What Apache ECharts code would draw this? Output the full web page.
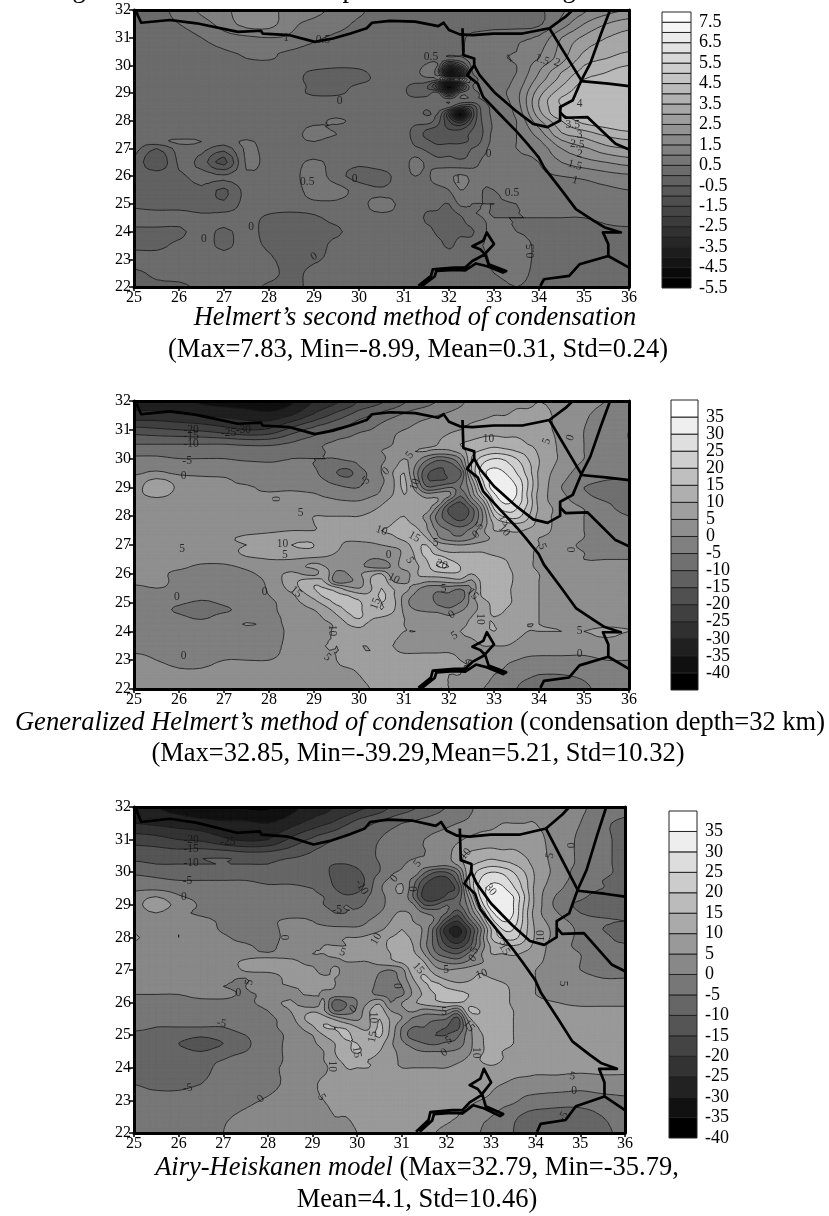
<!DOCTYPE html>
<html><head><meta charset="utf-8">
<style>html,body{margin:0;padding:0;background:#fff}#c{width:829px;height:1216px}</style>
<script src="https://cdn.jsdelivr.net/npm/echarts@6/dist/echarts.min.js"></script>
</head><body><div id="c"></div>
<script>
const levels1=[-5.5,-5,-4.5,-4,-3.5,-3,-2.5,-2,-1.5,-1,-0.5,0,0.5,1,1.5,2,2.5,3,3.5,4,4.5,5,5.5,6,6.5,7,7.5,8];
const levels2=[-45,-40,-35,-30,-25,-20,-15,-10,-5,0,5,10,15,20,25,30,35,40];
const levels3=[-40,-35,-30,-25,-20,-15,-10,-5,0,5,10,15,20,25,30,35,40];

const lons1=[25,25.5,26,26.5,27,27.5,28,28.5,29,29.5,30,30.5,31,31.25,31.5,31.75,32,32.25,32.5,32.75,33,33.5,34,34.5,35,35.5,36];
const lats1=[32,31.5,31,30.5,30.25,30,29.75,29.5,29.25,29,28.75,28.5,28.25,28,27.75,27.5,27.25,27,26.5,26,25.5,25,24.5,24,23.5,23,22.5,22];
const values1=[
[.2,.3,.7,1.1,1.4,1.7,1.7,1.2,1.1,.9,.6,.3,.3,.3,.3,.3,.3,.3,.3,.3,.3,.3,.4,.9,1.4,1.8,2],
[.2,.3,.5,.8,1.2,1.7,1.7,1.1,.9,.7,.4,.3,.3,.3,.3,.3,.3,.3,.3,.3,.3,.3,.4,1.2,2,2.5,2.8],
[.2,.2,.3,.5,.8,.9,1,.9,.6,.4,.3,.3,.3,.3,.3,.3,.3,.4,.6,.7,.8,.9,1.1,2,2.6,3,3.2],
[.2,.2,.2,.3,.45,.6,.6,.45,.3,.3,.3,.3,.3,.3,.3,.3,.3,.4,.7,.9,.9,1,1.4,2.2,3,3.3,3.5],
[.2,.2,.2,.2,.3,.5,.55,.3,.2,.2,.2,.3,.3,.3,.3,.35,.4,.4,.7,.9,.9,1.1,1.5,2.3,3.2,3.5,3.7],
[.2,.2,.2,.2,.2,.3,.3,.2,.2,.1,.1,.2,.3,.3,.55,.5,-2,-1,.6,.8,.7,1,1.8,2.6,3.5,3.8,4],
[.2,.2,.2,.2,.2,.2,.2,.2,-.1,-.2,-.1,.2,.3,.4,.6,.1,-4,-3,.4,1,.7,1,2,3,3.7,4,4.2],
[.2,.2,.2,.2,.2,.2,.2,.2,-.2,-.3,-.2,.2,.3,.3,.4,.6,3,2.5,.3,.8,.7,1.1,2.2,3.2,4,4.2,4.2],
[.2,.2,.2,.2,.2,.2,.2,.2,-.1,-.2,.1,.3,.1,-.2,-.4,-2,-5,-2,.4,.7,.8,1.2,2.5,3.5,4.2,4.4,4.4],
[.2,.2,.2,.2,.2,.2,.2,.2,-.1,-.1,.2,.3,.1,-.3,-.3,.2,-2,.2,.3,.6,.8,1.3,2.8,3.8,4.3,4.4,4.4],
[.2,.2,.2,.2,.2,.2,.2,.2,.2,.2,.2,.3,.2,.2,.3,.3,.3,.4,.4,.5,.7,1.3,3,4.1,4.4,4.4,4.4],
[.1,.2,.3,.1,.1,.2,.2,.2,.2,.2,.2,.3,.3,.3,.1,.3,.2,-1,-1,.3,.6,1.2,3,4,4.4,4.4,4.4],
[.2,.2,.2,.1,.2,.2,.3,.2,.3,.3,.2,.3,.3,.3,-.1,0,-2,-5,-1.5,.2,.6,1.1,2.8,4,4.4,4.4,4.4],
[.2,.2,.2,.2,.2,.3,.3,.2,.3,.6,.3,.3,.3,.2,.3,-.3,-1.5,-2.5,-1,.1,.6,1,2.4,3.5,4.2,4.4,4.4],
[.2,.3,.2,.1,.1,.2,.2,.2,.6,.4,.3,.3,.2,-.1,-.4,-.6,-1.1,-1.2,-.6,0,.6,1,2,3.2,3.7,4,4.2],
[.2,.5,.2,.3,.2,.2,.3,.3,.7,.5,.3,.3,.2,-.2,-.6,-.6,-.7,-.7,-.4,0,.7,1,1.7,2.9,3.2,3.6,3.8],
[.2,.3,.6,.5,.2,.6,.2,.3,.5,.2,.2,.2,.2,-.1,-.4,-.6,-.6,-.6,-.4,.1,.7,1,1.4,2.4,2.8,3.2,3.4],
[.2,-.5,.2,.2,-.3,.6,.3,.3,.2,.2,.2,.3,.2,.1,-.1,-.3,-.2,-.2,0,.3,.8,1,1.2,2,2.4,2.8,3],
[-.1,-1,.1,-.2,-1.2,.6,.3,.3,.6,.3,.1,.3,.3,.7,.4,.2,.2,.1,.2,.6,.7,.9,1,1.5,1.8,2,2.2],
[-.1,-.2,-.1,.2,.1,.4,.3,.3,.8,.2,-.2,-.2,.3,.5,.4,.8,.9,1.1,.9,.6,.7,.7,.9,1,1.1,1.3,1.4],
[-.2,-.3,-.4,-.1,-.6,.2,.3,.3,.7,.7,.3,.1,.3,.2,.3,.3,.5,1,.8,.5,.5,.6,.6,.7,.8,.9,1],
[-.1,-.2,-.2,-.2,-.4,.2,.3,.3,.4,.4,.3,.8,.3,.3,.2,.1,0,.6,.5,.5,.5,.5,.6,.6,.7,.8,.8],
[.2,.2,.2,.1,.2,.2,-.1,-.2,-.1,.2,.3,.3,.3,.3,-.1,-.1,-.2,-.1,.4,.5,.5,.5,.5,.5,.5,.6,.7],
[-.1,-.1,-.1,.2,-.1,.2,-.2,-.3,-.2,-.1,.3,.3,.3,.2,.2,-.1,-.2,-.1,-.1,.4,.6,.5,.4,.3,.3,.4,.4],
[-.1,-.1,.1,.2,-.1,.2,-.1,-.3,-.3,.2,.3,.3,.3,.3,.3,.2,-.1,.2,.3,.5,.6,.7,.4,.3,.3,.3,.3],
[.2,.2,.2,.2,.2,.2,.1,-.3,-.1,.2,.3,.3,.3,.3,.3,.3,.3,.3,.3,.4,.6,.7,.4,.3,.3,.3,.3],
[-.1,.1,.2,.2,.2,.2,.2,-.2,.2,.2,.3,.3,.3,.3,.3,.3,.3,.3,.3,.4,.5,.6,.4,.3,.3,.3,.3],
[-.2,-.1,-.1,.1,.2,.2,-.1,-.2,.2,.3,.3,.3,.3,.3,.3,.3,.3,.3,.3,.3,.4,.5,.4,.3,.3,.3,.3]
];

const lonsB=[25,25.5,26,26.5,27,27.5,28,28.5,29,29.25,29.5,29.75,30,30.25,30.5,30.75,31,31.25,31.5,31.75,32,32.25,32.5,32.75,33,33.25,33.5,33.75,34,34.5,35,35.5,36];
const latsB=[32,31.5,31,30.5,30.25,30,29.75,29.5,29.25,29,28.75,28.5,28.25,28,27.75,27.5,27.25,27,26.75,26.5,26.25,26,25.75,25.5,25.25,25,24.75,24.5,24.25,24,23.5,23,22.5,22];
const values2=[
[-32,-33,-34,-36,-37,-38,-39,-36,-30,-28,-26,-24,-20,-18,-16,-14,-11,-9,-7,-5,-3,-1,1,2,3,3,4,4,5,4,3,0,-1],
[-28,-28,-29,-30,-31,-32,-33,-30,-24,-21,-18,-15,-12,-10,-8,-6,-4,-2,-1,0,1,2,3,4,5,5,6,6,6,4,1,-3,-4],
[-18,-19,-20,-21,-23,-25,-24,-18,-13,-11,-9,-8,-6,-5,-3,-1,0,1,2,3,4,5,7,8,8,8,8,7,6,4,0,-3,-5],
[-10,-10,-10,-10,-10,-11,-11,-9,-7,-5,-4,-3,-2,-1,-1,0,2,3,4,5,7,10,11,12,13,12,12,10,8,4,0,-3,-5],
[-7,-7,-8,-8,-8,-8,-8,-7,-6,-5,-4,-3,-2,-1,0,1,3,5,5,4,4,7,13,16,18,17,15,13,9,4,0,-3,-5],
[-4,-4,-5,-5,-5,-6,-6,-5,-5,-5,-5,-4,-4,-3,-1,2,5,3,-3,-8,-6,0,15,22,25,24,20,15,10,4,0,-3,-5],
[-2,-2,-3,-3,-3,-3,-4,-4,-5,-6,-8,-8,-5,-3,0,3,7,0,-10,-14,-13,-5,15,26,29,27,23,17,10,3,-1,-3,-5],
[-1,1,-1,-1,-1,-1,-2,-2,-4,-7,-10,-12,-7,-4,0,5,10,-2,-14,-16,-14,-12,14,28,32,30,25,18,9,2,-2,-4,-5],
[2,6,3,1,.5,-1,-1,-2,-3,-5,-7,-8,-6,-4,-1,4,11,0,-14,-15,-14,-8,8,25,32,32,28,20,9,1,-3,-5,-5],
[3,8,4,1,.5,.5,-1,-1,-2,-3,-4,-5,-5,-3,0,4,11,3,-9,-8,-5,-5,4,22,33,33,30,20,9,0,-5,-7,-7],
[3,7,3,1,1,.5,.5,1,.5,-1,-2,-3,-3,-1,1,5,10,7,2,3,2,-9,2,16,29,33,30,19,8,1,-4,-7,-7],
[1,2,1,1,1,1,.5,.5,2,2,1,.5,.5,2,4,7,9,8,7,5,-8,-15,-4,8,25,31,28,20,8,2,-2,-5,-6],
[1,1,1,2,2,2,1,2,3,4,4,3,3,4,6,8,9,9,8,-3,-16,-20,-12,2,20,27,25,18,9,3,0,-4,-6],
[.5,1,1,2,2,2,2,3,5,5,5,5,5,6,8,9,10,8,3,-7,-14,-18,-12,0,15,21,22,16,8,3,0,-3,-5],
[1,1,1,2,2,2,2,2,5,6,6,6,6,7,8,10,11,9,5,-5,-10,-13,-9,1,11,14,15,13,8,3,0,-2,-4],
[1,1,1,2,2,3,4,5,5,6,7,7,7,8,10,11,14,12,6,-1,-5,-7,-3,4,10,10,11,9,7,3,0,-2,-4],
[1,1,2,3,4,6,7,8,9,7,6,6,6,7,8,9,12,15,10,1,-3,-4,-1,3,6,7,7,6,5,3,0,-2,-4],
[2,2,3,3,4,5,6,10,10,7,6,4,4,4,5,6,7,13,15,8,6,5,6,7,7,7,7,6,5,2,-1,-3,-4],
[2,3,5,4,3,6,6,8,9,7,5,3,2,2,2,3,6,11,17,12,10,10,10,10,9,8,7,6,4,2,0,-1,-2],
[1,3,3,2,2,4,5,5,4,4,3,2,2,0,0,2,7,10,15,19,15,12,11,11,11,10,8,6,4,2,0,0,0],
[1,1,1,-1,-1,1,3,3,6,5,3,2,1,-1,-2,1,8,9,13,20,20,15,13,13,12,11,8,6,4,2,1,1,0],
[1,1,-1,-2,-2,-1,2,6,3,8,-2,0,4,8,10,2,1,9,12,13,14,14,10,14,14,12,9,7,5,3,2,1,1],
[1,1,-1,-3,-3,-2,1,8,13,9,-3,-1,2,10,14,5,3,8,6,6,7,8,4,12,14,12,9,7,5,3,2,1,1],
[-1,0,-1,-3,-3,-2,.5,7,15,15,12,7,5,9,15,10,8,2,-2,-3,-2,-4,0,12,13,11,9,7,5,3,2,1,1],
[-2,-2,-1,-3,-3,-2,0,4,12,16,16,15,12,11,16,11,4,-1,-3,-6,-6,-9,3,11,12,11,9,7,5,3,2,1,1],
[-2,-3,-4,-6,-4,-2,-1,3,8,12,16,16,16,11,15,12,3,-3,-2,-6,-7,-5,2,8,11,11,9,7,5,3,2,1,1],
[-2,-3,-6,-8,-6,-3,-1,2,5,8,12,16,16,12,15,11,4,0,-1,-2,-4,-1,3,7,11,10,8,7,5,3,2,2,2],
[-2,-3,-4,-6,-3,-3,-1,1,3,6,9,13,16,11,10,8,5,4,3,3,1,3,5,9,10,9,8,6,5,4,3,2,3],
[-2,-3,-3,-3,-3,.5,-1,1,3,4,6,10,11,9,8,6,5,4,4,4,4,4,6,9,10,7,6,5,5,4,3,4,4],
[-2,-2,-2,-2,-2,-3,-2,1,3,4,6,8,9,9,7,6,5,5,4,4,4,5,6,8,10,8,6,5,5,5,5,6,5],
[-1,-1,-1,-1,-1,-1,-1,1,3,5,5,5,5,5,5,5,4,4,4,4,4,4,4,5,5,5,4,3,2,2,2,3,2],
[1,0,-1,-1,0,0,0,1,3,4,5,6,6,6,6,6,6,6,6,6,6,5,5,4,3,1,0,-1,-1,-1,-1,0,0],
[2,2,1,1,2,2,2,2,3,3,4,4,5,6,6,6,6,6,6,6,5,5,4,2,0,-1,-3,-4,-5,-5,-4,-2,-1],
[3,3,3,3,3,3,3,3,3,3,3,4,4,5,6,6,6,6,6,5,5,4,2,0,-1,-3,-5,-7,-8,-8,-6,-3,-1]
];
const values3=[
[-28,-30,-32,-34,-35,-36,-36,-32,-28,-27,-25,-24,-22,-20,-18,-15,-13,-11,-9,-7,-5,-3,-1,1,2,3,4,4,4,4,1,-2,-3],
[-25,-26,-27,-28,-29,-29,-30,-27,-23,-21,-19,-16,-13,-11,-9,-7,-5,-4,-3,-2,-1,0,1,3,4,5,5,5,5,3,0,-4,-6],
[-17,-18,-20,-21,-24,-26,-25,-19,-14,-12,-10,-8,-8,-7,-5,-3,-2,-1,0,1,2,4,6,7,7,7,7,6,6,3,-1,-4,-6],
[-12,-12,-12,-11,-11,-12,-12,-11,-9,-8,-6,-7,-7,-7,-4,-3,-2,-1,0,1,3,8,11,12,13,12,12,10,7,3,-1,-4,-6],
[-9,-10,-10,-10,-10,-10,-10,-9,-8,-9,-10,-10,-9,-8,-5,-3,-1,2,3,3,2,6,13,16,18,17,15,12,8,3,-1,-4,-6],
[-6,-7,-8,-8,-8,-8,-8,-8,-8,-9,-11,-12,-11,-8,-5,-1,1,4,-4,-10,-10,-3,14,22,25,24,20,15,9,3,-2,-4,-6],
[-3,-4,-5,-5,-5,-5,-6,-6,-7,-8,-11,-13,-13,-8,-2,1,4,-2,-12,-17,-17,-8,14,25,29,28,23,17,9,2,-2,-5,-6],
[-1,-1,-2,-2,-2,-3,-4,-4,-5,-7,-10,-13,-12,-7,-1,3,6,-4,-16,-19,-16,-13,12,27,31,31,26,18,8,1,-3,-5,-6],
[2,5,.5,-1,-2,-2,-2,-3,-4,-5,-7,-9,-8,-5,-2,2,4,-5,-17,-19,-14,-9,6,25,32,33,30,20,8,-1,-4,-7,-8],
[3,8,3,-.5,-1,-2,-2,-2,-3,-5,-6,-5,-6,-4,-2,2,2,1,-10,-10,-5,-6,2,20,33,34,30,19,8,-2,-6,-8,-8],
[2,5,1,-.5,-1,-1,-2,-2,-1,-3,-5,-5,-4,-2,0,3,6,4,0,-2,-5,-13,-1,12,28,33,30,18,7,0,-5,-7,-7],
[2,2,2,1,-.5,-1,-1,1,0,-1,-2,-2,-2,0,2,5,9,5,3,-1,-14,-20,-8,5,22,30,28,18,8,2,-2,-4,-5],
[3,2,4,2,-.5,-1,-1,1,1,1,1,1,1,2,4,7,10,7,4,-8,-23,-27,-17,-2,15,25,25,17,9,3,-1,-5,-9],
[6,2,5,2,.5,-1,-1,1,3,4,4,5,5,6,8,10,11,9,3,-8,-20,-25,-16,0,15,21,22,16,9,3,-1,-3,-8],
[3,2,2,2,1,.5,-1,2,4,5,5,5,6,6,8,11,12,10,2,-7,-15,-18,-12,0,11,14,15,13,8,2,-1,-3,-4],
[1,1,1,1,2,2,.5,3,5,5,6,6,6,7,8,10,12,11,5,-4,-8,-10,-4,4,10,10,11,9,7,2,0,-2,-3],
[2,2,2,3,3,6,9,6,4,4,4,5,5,5,7,9,11,14,10,2,-1,-2,1,4,7,7,7,6,6,2,0,-1,-2],
[2,1,2,4,.5,6,6,6,6,3,6,3,3,3,1,0,3,13,13,7,5,6,7,9,8,8,7,6,5,2,0,-1,-1],
[2,2,5,2,1,0,3,6,7,6,5,4,3,3,-1,-2,2,10,16,12,9,8,9,11,10,9,8,6,5,3,1,0,0],
[1,1,3,1,0,0,4,5,6,6,5,3,3,2,-2,-3,0,7,13,17,14,12,12,13,12,11,9,7,5,3,1,1,1],
[0,0,0,1,1,-.5,1,3,6,4,3,2,1,1,-1,-1,-1,6,11,15,18,17,15,14,13,12,9,7,5,3,2,2,2],
[-1,-1,-1,-1,-1,-1,2,6,0,6,-8,-5,0,5,9,0,5,9,12,14,15,15,14,13,13,12,9,7,6,5,4,4,4],
[-1,-2,-2,-2,-2,-2,0,5,9,6,-5,-3,1,9,13,5,4,6,3,4,5,0,15,15,14,12,10,7,6,6,6,6,6],
[-3,-3,-3,-3,-3,-2,-1,3,13,13,9,5,4,9,15,9,5,-1,-3,-4,-5,-12,8,14,13,12,10,7,6,6,6,6,6],
[-4,-5,-5,-5,-5,-3,-1,2,9,15,15,14,10,9,16,9,0,-5,-5,-8,-10,-12,3,11,13,12,10,7,6,6,6,6,6],
[-6,-6,-7,-9,-7,-5,-2,1,5,10,13,16,13,12,16,8,-1,-8,-9,-10,-10,-6,3,9,12,12,10,7,6,6,6,6,6],
[-6,-7,-10,-13,-10,-6,-2,1,4,7,10,14,15,11,12,6,1,-2,-5,-6,-4,-3,3,9,11,11,10,7,6,6,6,6,6],
[-6,-7,-8,-10,-7,-5,-2,1,3,5,10,13,16,12,10,7,3,1,0,0,0,1,4,9,11,10,9,7,6,6,6,6,6],
[-6,-6,-6,-6,-5,-3,-2,1,3,5,9,11,11,10,9,7,4,3,3,3,3,4,6,10,12,10,9,7,6,6,6,6,6],
[-6,-6,-6,-6,-4,-3,-1,1,3,4,7,10,10,10,9,6,5,5,5,5,5,6,7,8,9,8,7,7,6,6,6,6,6],
[-5,-6,-6,-5,-3,-2,-1,1,4,6,7,8,8,7,7,7,7,7,7,7,7,7,7,7,6,5,4,3,3,3,2,3,3],
[-3,-3,-3,-2,-2,-1,.5,2,4,5,6,7,7,7,7,7,7,7,7,7,7,6,6,5,4,2,1,-1,-2,-3,-3,-2,-1],
[-1,-1,-1,-1,-.5,1,3,3,4,4,5,5,6,7,7,7,7,7,6,6,6,5,3,1,0,-2,-4,-6,-7,-7,-7,-5,-3],
[-1,-1,-1,-1,0,2,3,3,4,4,4,4,5,6,6,6,6,6,5,5,4,2,1,0,-1,-3,-5,-8,-9,-9,-8,-6,-4]
];

const boundaryMed=[[25.04,32],[25.08,31.82],[25.16,31.54],[25.8,31.64],[26.39,31.52],[27.31,31.21],[27.82,31.25],[27.86,31.15],[28.46,31.09],[29.02,30.85],[29.42,30.97],[29.81,31.15],[30.17,31.34],[30.29,31.54],[30.69,31.61],[31.25,31.58],[31.76,31.42],[31.88,31.54],[32,31.28],[32.24,31.12],[32.52,31.09],[32.99,31.15],[33.63,31.15],[34.23,31.34],[34.59,31.76],[34.75,32]];
const boundaryRedSea=[[32.3,31.34],[32.32,30.37],[32.56,30.25],[32.56,30],[32.4,29.65],[32.64,29.34],[32.76,28.86],[33.15,28.2],[33.51,27.6],[33.71,27.23],[33.99,26.69],[34.11,26.32],[34.51,25.48],[34.82,24.81],[35.22,24.39],[35.46,24.15],[35.82,23.97],[35.42,23.97],[35.54,23.55],[35.54,23.12],[36,22.7]];
const boundarySinai=[[32.56,30],[32.68,29.65],[33,29.04],[33.47,28.38],[33.87,27.89],[34.19,27.77],[34.47,28.01],[34.47,28.5],[34.75,28.74],[34.94,29.46],[35.14,30.07],[35.38,31.15],[35.58,32]];
const boundaryIsrael=[[34.23,31.34],[34.94,29.46]];
const boundaryJordan=[[34.94,29.43],[35.54,29.34],[36,29.25]];
const boundarySaudi=[[34.47,28.3],[34.59,28.11],[35.08,28.13],[35.7,27.17],[36,26.96]];
const boundaryNasser=[[31.32,22.04],[31.6,22.4],[31.64,22.64],[32.12,22.7],[32.36,22.7],[32.52,22.94],[32.8,23.18],[32.7,23.35],[32.52,23.47],[32.76,23.67],[32.84,23.97],[33,23.55],[32.8,23.2],[32.88,22.82],[33.27,22.58],[33.2,22.52],[32.85,22.75],[32.6,22.85],[32.36,22.6],[32.12,22.62],[31.72,22.58],[31.68,22.38],[31.4,22.04]];
const boundarySouth=[[34.03,22.04],[34.11,22.28],[34.67,22.4],[34.9,22.82],[35.54,23.12]];

const labels1=[[28.38,31,'1',0],[29.2,30.9,'0.5',0],[31.6,30.3,'0.5',0],[33.35,30.25,'1',30],[34.07,30.2,'1.5',-20],[34.4,30.1,'2',-20],[34.9,28.6,'4',0],[34.75,27.85,'3.5',0],[34.9,27.5,'3',0],[34.85,27.15,'2.5',-5],[34.9,26.8,'2',-10],[34.8,26.4,'1.5',-15],[34.8,25.85,'1',-15],[29.57,28.7,'0',0],[29.9,25.9,'0',0],[32.88,26.8,'0',0],[28.85,25.8,'0.5',0],[33.4,25.4,'0.5',0],[33.83,23.3,'0.5',90],[29,23.1,'0',30],[27.6,24.15,'0',0],[26.55,23.75,'0',0],[32.2,25.85,'1',0]];
const labels2=[[26.27,31,'-20',0],[27.1,30.9,'-25',0],[27.43,31,'-30',0],[26.27,30.78,'-15',0],[26.27,30.5,'-10',0],[26.18,29.92,'-5',0],[26.1,29.39,'0',0],[26.07,26.85,'5',0],[28.18,28.6,'0',90],[28.7,28.12,'5',0],[26.1,23.14,'0',0],[25.95,25.2,'0',0],[27.9,25.36,'0',0],[28.35,26.64,'5',0],[28.3,27.05,'10',0],[28.6,25.37,'15',-40],[29.4,24.03,'10',-90],[29.3,23.1,'5',-40],[30.13,29.2,'-5',40],[30.6,29.56,'0',40],[31.13,30.12,'5',50],[31.25,29.1,'10',70],[30.5,27.5,'10',-20],[31.23,27.28,'15',-30],[31.7,27.07,'5',0],[31.13,26.47,'5',-60],[31.84,26.32,'20',-20],[30.37,24.96,'15',70],[30.77,25.83,'10',-30],[31.88,25.46,'5',0],[32.06,24.58,'0',30],[32.12,23.85,'5',30],[32.69,24.43,'10',-90],[32.53,25.3,'15',-50],[32.6,27.36,'0',40],[32.68,27.66,'5',50],[33.23,27.5,'10',-50],[33.23,27.86,'15',-60],[32.88,30.68,'10',0],[34.17,30.6,'5',70],[34.7,30.72,'0',70],[34.07,26.95,'5',-70],[34.7,26.84,'0',-90],[34.9,24.03,'5',0],[34.9,23.22,'0',0],[30.66,26.64,'0',0]];
const labels3=[[26.28,31,'-20',0],[27.1,30.92,'-25',0],[26.28,30.7,'-15',0],[26.28,30.28,'-10',0],[26.2,29.72,'-5',0],[26.12,29.25,'0',0],[30.1,29.54,'-10',-60],[29.55,28.84,'-5',0],[30.83,29.8,'0',50],[28.4,28,'0',90],[29.67,27.54,'5',-20],[30.43,27.95,'10',60],[31.35,30.26,'5',50],[31.27,29.49,'0',90],[31.37,27.05,'15',-50],[31.99,27,'5',0],[32.79,26.87,'10',20],[32.59,27.36,'0',50],[32.63,27.6,'5',60],[32.43,30.56,'10',50],[32.99,29.46,'30',-50],[34.32,30.51,'5',80],[34.82,30.82,'0',90],[34.12,28.05,'10',90],[34.61,26.58,'5',-90],[27.58,26.62,'5',80],[27.34,26.31,'0',0],[30.93,26.51,'0',90],[29.91,25.8,'0',40],[30.35,25.54,'10',-90],[30.35,24.95,'15',80],[32.5,25.28,'15',-50],[31.95,25.71,'5',0],[32.05,24.84,'5',30],[31.95,24.46,'0',30],[32.67,24.46,'10',-90],[29.99,24.48,'15',-80],[29.43,24.05,'10',-90],[26.96,25.36,'-5',-10],[26.2,23.38,'-5',10],[27.84,23.05,'0',40],[29.2,23.1,'5',-60],[34.82,23.74,'5',-10],[34.86,23.28,'0',0],[34.62,22.5,'-5',60],[33.3,27.64,'15',-60],[33.27,27.85,'5',-50]];

const captions=[
 {italic:'Helmert’s second method of condensation',plain:'',y:318,x:415,second:'(Max=7.83, Min=-8.99, Mean=0.31, Std=0.24)',y2:350,x2:418},
 {italic:'Generalized Helmert’s method of condensation',plain:' (condensation depth=32 km)',y:723,x:420,second:'(Max=32.85, Min=-39.29,Mean=5.21, Std=10.32)',y2:754,x2:418},
 {italic:'Airy-Heiskanen model',plain:' (Max=32.79, Min=-35.79,',y:1168,x:417,second:'Mean=4.1, Std=10.46)',y2:1200,x2:417}
];
const clippedHeading=[['g',79],['p',349],['g',569]];

// Colour of a band from its position on the black-to-white scale.
function bandColor(i,n){const g=Math.round(255*i/(n-1));return 'rgb('+g+','+g+','+g+')';}

// Smooth a sampled grid for contour drawing (index-space Catmull-Rom).
function cr(a,b,c,d,t){return 0.5*(2*b+(c-a)*t+(2*a-5*b+4*c-d)*t*t+(3*b-a-3*c+d)*t*t*t);}
function refine1(arr,k){const out=[];const n=arr.length;for(let i=0;i<n-1;i++){for(let s=0;s<k;s++){const t=s/k;out.push(cr(arr[Math.max(i-1,0)],arr[i],arr[i+1],arr[Math.min(i+2,n-1)],t));}}out.push(arr[n-1]);return out;}
function linear1(arr,k){const out=[];for(let i=0;i<arr.length-1;i++){for(let s=0;s<k;s++)out.push(arr[i]+(arr[i+1]-arr[i])*s/k);}out.push(arr[arr.length-1]);return out;}
function clipPoly(p,level,keepAbove){const r=[];const n=p.length;for(let i=0;i<n;i++){const a=p[i],b=p[(i+1)%n];const ia=keepAbove?a[2]>=level:a[2]<=level,ib=keepAbove?b[2]>=level:b[2]<=level;if(ia)r.push(a);if(ia!==ib){const t=(level-a[2])/(b[2]-a[2]);r.push([a[0]+(b[0]-a[0])*t,a[1]+(b[1]-a[1])*t,level]);}}return r;}
function contour(lons,lats,vals,levels){
  const k=3,lonF=linear1(lons,k),latF=linear1(lats,k);
  const rowsR=vals.map(r=>refine1(r,k));
  const nc=lonF.length;
  const colsR=[];for(let c=0;c<nc;c++){colsR.push(refine1(rowsR.map(r=>r[c]),k));}
  const bands=levels.slice(0,-1).map(()=>[]);const lines=levels.map(()=>[]);
  const nb=bands.length;const lo=levels[0],step=levels[1]-levels[0];
  function tri(a,b,c){
    const mn=Math.min(a[2],b[2],c[2]),mx=Math.max(a[2],b[2],c[2]);
    let i0=Math.max(0,Math.floor((mn-lo)/step)),i1=Math.min(nb-1,Math.floor((mx-lo)/step));
    if(i0>nb-1)i0=nb-1;if(i1<0)i1=0;
    if(i0>i1)i0=i1;
    for(let i=i0;i<=i1;i++){
      let p=[a,b,c];
      if(i>0)p=clipPoly(p,levels[i],true);
      if(p.length>2&&i<nb-1)p=clipPoly(p,levels[i+1],false);
      if(p.length>2)bands[i].push(p);
    }
    for(let l=Math.max(1,i0);l<=Math.min(levels.length-2,i1+1);l++){
      const L=levels[l];if(L<=mn||L>=mx)continue;
      const pts=[];[[a,b],[b,c],[c,a]].forEach(e=>{const u=e[0],v=e[1];if((u[2]<L)!==(v[2]<L)){const t=(L-u[2])/(v[2]-u[2]);pts.push(u[0]+(v[0]-u[0])*t,u[1]+(v[1]-u[1])*t);}});
      if(pts.length===4)lines[l].push(pts);
    }
  }
  const nr=latF.length;
  for(let r=0;r<nr-1;r++)for(let c=0;c<nc-1;c++){
    const P=(rr,cc)=>[lonF[cc],latF[rr],colsR[cc][rr]+1e-4];
    const a=P(r,c),b=P(r,c+1),d=P(r+1,c+1),e=P(r+1,c);
    tri(a,b,d);tri(a,d,e);
  }
  return {bands,lines:lines.flat()};
}
echarts.graphic.registerShape('bandPolys',echarts.graphic.extendShape({type:'bandPolys',shape:{polys:null,segs:null},buildPath(ctx,s){
  if(s.polys)s.polys.forEach(p=>{ctx.moveTo(p[0],p[1]);for(let i=2;i<p.length;i+=2)ctx.lineTo(p[i],p[i+1]);ctx.closePath();});
  if(s.segs)s.segs.forEach(p=>{ctx.moveTo(p[0],p[1]);ctx.lineTo(p[2],p[3]);});
}}));

const panels=[
 {lons:lons1,lats:lats1,vals:values1,levels:levels1,labels:labels1,box:[134,10,495,277],leg:[662,12,29,276],font:16,legendFont:18,fixed:1,legInterval:1},
 {lons:lonsB,lats:latsB,vals:values2,levels:levels2,labels:labels2,box:[134,401,495,288],leg:[671,400,27,290],font:16,legendFont:18,fixed:0,legInterval:5},
 {lons:lonsB,lats:latsB,vals:values3,levels:levels3,labels:labels3,box:[134,807,491,326],leg:[669,811,28,327],font:16,legendFont:18,fixed:0,legInterval:5}
];
const serif='"Liberation Serif"';
const grid=[],xAxis=[],yAxis=[],series=[];
function addAxes(g,xo,yo){grid.push(g);const idx=grid.length-1;xo.forEach(o=>xAxis.push(Object.assign({gridIndex:idx},o)));yo.forEach(o=>yAxis.push(Object.assign({gridIndex:idx},o)));return idx;}
let axisIx=0;
panels.forEach((P,pi)=>{
  const c=contour(P.lons,P.lats,P.vals,P.levels);
  const [l,t,w,h]=P.box;
  const frame={show:true,lineStyle:{color:'#000',width:3},onZero:false};
  const lab={color:'#000',fontFamily:serif,fontSize:P.font};
  const xBase={type:'value',min:25,max:36,interval:1,splitLine:{show:false},z:10};
  const yBase={type:'value',min:22,max:32,interval:1,splitLine:{show:false},z:10};
  addAxes({left:l,top:t,width:w,height:h},
   [Object.assign({},xBase,{position:'bottom',axisLine:frame,axisTick:{show:true,length:4,lineStyle:{color:'#000',width:1.5}},axisLabel:Object.assign({margin:3},lab)}),
    Object.assign({},xBase,{position:'top',axisLine:frame,axisTick:{show:false},axisLabel:{show:false}})],
   [Object.assign({},yBase,{position:'left',axisLine:frame,axisTick:{show:true,length:5,lineStyle:{color:'#000',width:1.5}},axisLabel:Object.assign({margin:3},lab)}),
    Object.assign({},yBase,{position:'right',axisLine:frame,axisTick:{show:false},axisLabel:{show:false}})]);
  const xi=axisIx,yi=axisIx;
  const toPx=(api)=>{const A=api.coord([25,22]),B=api.coord([36,32]);const sx=(B[0]-A[0])/11,sy=(B[1]-A[1])/10;return (lon,lat)=>[A[0]+(lon-25)*sx,A[1]+(lat-22)*sy];};
  series.push({type:'custom',xAxisIndex:xi,yAxisIndex:yi,z:2,silent:true,animation:false,clip:true,
    data:P.levels.slice(0,-1).map((v,i)=>[v,i]),encode:{x:0,y:-1},
    renderItem(params,api){
      const i=params.dataIndex,col=bandColor(i,P.levels.length-1),m=toPx(api);
      const polys=c.bands[i].map(p=>{const o=[];p.forEach(q=>{const r=m(q[0],q[1]);o.push(r[0],r[1]);});return o;});
      return {type:'bandPolys',shape:{polys},style:{fill:col,stroke:col,lineWidth:0.7},silent:true};
    }});
  series.push({type:'custom',xAxisIndex:xi,yAxisIndex:yi,z:3,silent:true,animation:false,clip:true,
    data:[[25,22]],encode:{x:0,y:1},
    renderItem(params,api){
      const m=toPx(api);
      const segs=c.lines.map(s=>{const a=m(s[0],s[1]),b=m(s[2],s[3]);return [a[0],a[1],b[0],b[1]];});
      return {type:'bandPolys',shape:{segs},style:{fill:null,stroke:'#111',lineWidth:0.8},silent:true};
    }});
  [boundaryMed,boundaryRedSea,boundarySinai,boundaryIsrael,boundaryJordan,boundarySaudi,boundaryNasser,boundarySouth].forEach(b=>{
    series.push({type:'line',xAxisIndex:xi,yAxisIndex:yi,data:b,showSymbol:false,symbol:'none',silent:true,animation:false,z:5,lineStyle:{color:'#000',width:2.7,join:'round'}});
  });
  series.push({type:'scatter',xAxisIndex:xi,yAxisIndex:yi,z:6,silent:true,animation:false,symbolSize:2,itemStyle:{color:'rgba(0,0,0,0)'},
    data:P.labels.map(a=>({value:[a[0],a[1]],label:{show:true,position:'inside',formatter:a[2],rotate:a[3],color:'#111',fontFamily:serif,fontSize:11.5}}))});
  axisIx+=2;

  // colour scale
  const [ll,lt,lw,lh]=P.leg;
  const lv=P.levels,top=lv[lv.length-1];
  addAxes({left:ll,top:lt,width:lw,height:lh},
    [{type:'value',min:0,max:1,show:false}],
    [{type:'value',min:lv[0],max:top,interval:P.legInterval,position:'right',splitLine:{show:false},axisLine:{show:false},axisTick:{show:false},
      axisLabel:{color:'#000',fontFamily:serif,fontSize:P.legendFont,margin:8,showMaxLabel:false,formatter:v=>v>=top?'':(P.fixed?v.toFixed(1):String(v))}}]);
  const lx=axisIx,ly=axisIx;
  series.push({type:'custom',xAxisIndex:lx,yAxisIndex:ly,silent:true,animation:false,clip:false,
    data:lv.slice(0,-1).map((v,i)=>[0,v,lv[i+1]]),encode:{x:0,y:[1,2]},
    renderItem(params,api){
      const i=params.dataIndex,a=api.coord([0,api.value(1)]),b=api.coord([1,api.value(2)]);
      return {type:'rect',shape:{x:a[0],y:b[1],width:b[0]-a[0],height:a[1]-b[1]},style:{fill:bandColor(i,lv.length-1),stroke:'#222',lineWidth:1}};
    }});
  axisIx+=1;
});

const capFont=26.5;
const graphic=[];
captions.forEach(c=>{
  graphic.push({type:'text',silent:true,z:20,style:{x:c.x,y:c.y,align:'center',verticalAlign:'middle',text:'{i|'+c.italic+'}'+(c.plain?'{n|'+c.plain+'}':''),rich:{i:{font:'italic '+capFont+'px '+serif,fill:'#000'},n:{font:capFont+'px '+serif,fill:'#000'}},fill:'#000'}});
  graphic.push({type:'text',silent:true,z:20,style:{x:c.x2,y:c.y2,align:'center',verticalAlign:'middle',text:c.second,font:capFont+'px '+serif,fill:'#000'}});
});
clippedHeading.forEach(h=>graphic.push({type:'text',silent:true,z:20,style:{x:h[1],y:4,align:'center',verticalAlign:'bottom',text:h[0],font:capFont+'px '+serif,fill:'#000'}}));
graphic.push({type:'rect',silent:true,z:30,shape:{x:729,y:0,width:60,height:310},style:{fill:'#fff'}});
graphic.push({type:'rect',silent:true,z:30,shape:{x:729,y:820,width:60,height:330},style:{fill:'#fff'}});

const chart=echarts.init(document.getElementById('c'),null,{renderer:'canvas'});
chart.setOption({animation:false,backgroundColor:'#fff',grid,xAxis,yAxis,series,graphic});
</script></body></html>
